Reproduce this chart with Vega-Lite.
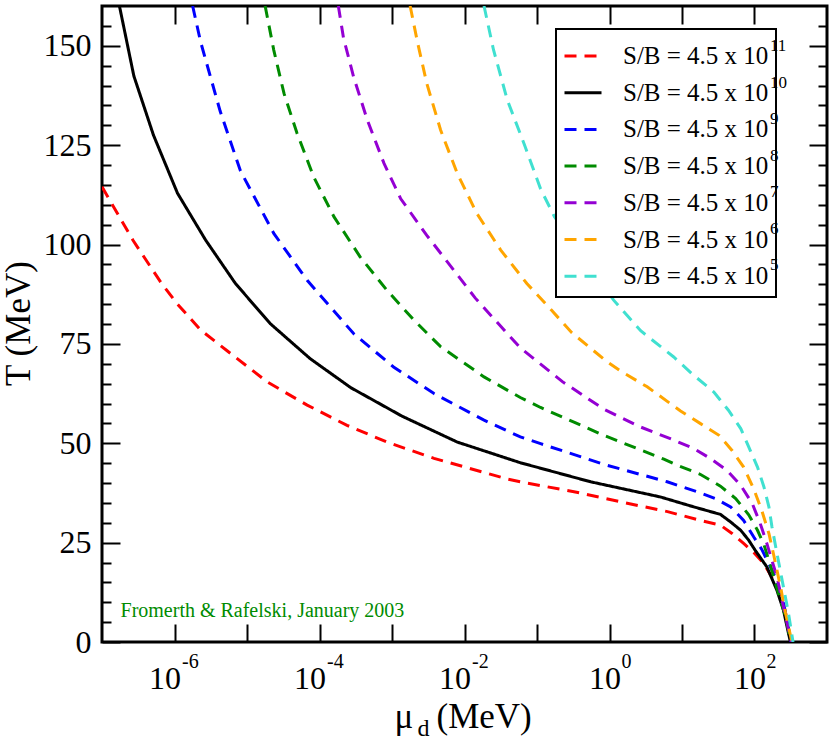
{
  "$schema": "https://vega.github.io/schema/vega-lite/v6.json",
  "width": 725,
  "height": 636,
  "autosize": {"type": "none"},
  "padding": {"left": 102, "top": 6, "right": 3, "bottom": 102},
  "config": {
    "view": {"stroke": "black", "strokeWidth": 3},
    "font": "Liberation Serif",
    "axis": {
      "domain": false,
      "grid": false,
      "tickColor": "black",
      "tickWidth": 2,
      "labelColor": "black",
      "titleColor": "black",
      "labelFont": "Liberation Serif",
      "titleFont": "Liberation Serif",
      "titleFontWeight": "normal",
      "labelFlush": false,
      "labelOverlap": false
    },
    "legend": {"strokeWidth": 2}
  },
  "datasets": {
    "curves": [
      {"s": "4.5e11", "n": 11, "mu": 1e-7, "T": 114.5},
      {"s": "4.5e11", "n": 11, "mu": 2.69e-7, "T": 101},
      {"s": "4.5e11", "n": 11, "mu": 6.46e-7, "T": 90.5},
      {"s": "4.5e11", "n": 11, "mu": 1.1e-6, "T": 85},
      {"s": "4.5e11", "n": 11, "mu": 2.29e-6, "T": 78.5},
      {"s": "4.5e11", "n": 11, "mu": 5.37e-6, "T": 73.2},
      {"s": "4.5e11", "n": 11, "mu": 1.91e-5, "T": 65.4},
      {"s": "4.5e11", "n": 11, "mu": 6.76e-5, "T": 59.6},
      {"s": "4.5e11", "n": 11, "mu": 2.4e-4, "T": 54.5},
      {"s": "4.5e11", "n": 11, "mu": 8.51e-4, "T": 50.3},
      {"s": "4.5e11", "n": 11, "mu": 3.8e-3, "T": 46.2},
      {"s": "4.5e11", "n": 11, "mu": 3.89e-2, "T": 41.0},
      {"s": "4.5e11", "n": 11, "mu": 5.89e-2, "T": 40.3},
      {"s": "4.5e11", "n": 11, "mu": 0.324, "T": 37.8},
      {"s": "4.5e11", "n": 11, "mu": 2.69, "T": 34.2},
      {"s": "4.5e11", "n": 11, "mu": 6.31, "T": 32.8},
      {"s": "4.5e11", "n": 11, "mu": 17.8, "T": 30.6},
      {"s": "4.5e11", "n": 11, "mu": 33.9, "T": 29.4},
      {"s": "4.5e11", "n": 11, "mu": 49.0, "T": 27.3},
      {"s": "4.5e11", "n": 11, "mu": 70.8, "T": 24.8},
      {"s": "4.5e11", "n": 11, "mu": 97.7, "T": 22.5},
      {"s": "4.5e11", "n": 11, "mu": 134, "T": 19.8},
      {"s": "4.5e11", "n": 11, "mu": 184, "T": 15.5},
      {"s": "4.5e11", "n": 11, "mu": 240, "T": 11.3},
      {"s": "4.5e11", "n": 11, "mu": 282, "T": 5.5},
      {"s": "4.5e11", "n": 11, "mu": 313, "T": 0},

      {"s": "4.5e10", "n": 10, "mu": 1.74e-7, "T": 160},
      {"s": "4.5e10", "n": 10, "mu": 2.75e-7, "T": 142.4},
      {"s": "4.5e10", "n": 10, "mu": 5.13e-7, "T": 127.5},
      {"s": "4.5e10", "n": 10, "mu": 1.1e-6, "T": 112.9},
      {"s": "4.5e10", "n": 10, "mu": 2.69e-6, "T": 101.1},
      {"s": "4.5e10", "n": 10, "mu": 6.92e-6, "T": 90.2},
      {"s": "4.5e10", "n": 10, "mu": 2.09e-5, "T": 80.1},
      {"s": "4.5e10", "n": 10, "mu": 7.41e-5, "T": 71.3},
      {"s": "4.5e10", "n": 10, "mu": 2.69e-4, "T": 64.0},
      {"s": "4.5e10", "n": 10, "mu": 1.38e-3, "T": 56.8},
      {"s": "4.5e10", "n": 10, "mu": 7.94e-3, "T": 50.3},
      {"s": "4.5e10", "n": 10, "mu": 5.89e-2, "T": 45.1},
      {"s": "4.5e10", "n": 10, "mu": 0.55, "T": 40.3},
      {"s": "4.5e10", "n": 10, "mu": 5.01, "T": 36.5},
      {"s": "4.5e10", "n": 10, "mu": 14.5, "T": 34.0},
      {"s": "4.5e10", "n": 10, "mu": 33.9, "T": 32.1},
      {"s": "4.5e10", "n": 10, "mu": 46.8, "T": 30.2},
      {"s": "4.5e10", "n": 10, "mu": 64.6, "T": 28.1},
      {"s": "4.5e10", "n": 10, "mu": 83.2, "T": 25.6},
      {"s": "4.5e10", "n": 10, "mu": 102, "T": 23.1},
      {"s": "4.5e10", "n": 10, "mu": 148, "T": 18.9},
      {"s": "4.5e10", "n": 10, "mu": 204, "T": 13.0},
      {"s": "4.5e10", "n": 10, "mu": 251, "T": 8.0},
      {"s": "4.5e10", "n": 10, "mu": 295, "T": 2.1},
      {"s": "4.5e10", "n": 10, "mu": 313, "T": 0},

      {"s": "4.5e9", "n": 9, "mu": 1.78e-6, "T": 160},
      {"s": "4.5e9", "n": 9, "mu": 2.29e-6, "T": 151},
      {"s": "4.5e9", "n": 9, "mu": 4.27e-6, "T": 133.5},
      {"s": "4.5e9", "n": 9, "mu": 8.13e-6, "T": 118.5},
      {"s": "4.5e9", "n": 9, "mu": 2.34e-5, "T": 102.8},
      {"s": "4.5e9", "n": 9, "mu": 6.76e-5, "T": 91.0},
      {"s": "4.5e9", "n": 9, "mu": 2.95e-4, "T": 77.6},
      {"s": "4.5e9", "n": 9, "mu": 1.05e-3, "T": 69.2},
      {"s": "4.5e9", "n": 9, "mu": 3.8e-3, "T": 62.5},
      {"s": "4.5e9", "n": 9, "mu": 1.86e-2, "T": 55.8},
      {"s": "4.5e9", "n": 9, "mu": 5.89e-2, "T": 51.6},
      {"s": "4.5e9", "n": 9, "mu": 0.112, "T": 49.9},
      {"s": "4.5e9", "n": 9, "mu": 0.832, "T": 44.7},
      {"s": "4.5e9", "n": 9, "mu": 6.24, "T": 40.3},
      {"s": "4.5e9", "n": 9, "mu": 16.2, "T": 37.8},
      {"s": "4.5e9", "n": 9, "mu": 28.8, "T": 36.1},
      {"s": "4.5e9", "n": 9, "mu": 46.8, "T": 34.0},
      {"s": "4.5e9", "n": 9, "mu": 70.8, "T": 30.6},
      {"s": "4.5e9", "n": 9, "mu": 97.7, "T": 26.4},
      {"s": "4.5e9", "n": 9, "mu": 126, "T": 23.3},
      {"s": "4.5e9", "n": 9, "mu": 184, "T": 17.2},
      {"s": "4.5e9", "n": 9, "mu": 240, "T": 11.3},
      {"s": "4.5e9", "n": 9, "mu": 282, "T": 5.5},
      {"s": "4.5e9", "n": 9, "mu": 316, "T": 0},

      {"s": "4.5e8", "n": 8, "mu": 1.78e-5, "T": 160},
      {"s": "4.5e8", "n": 8, "mu": 2.34e-5, "T": 148.9},
      {"s": "4.5e8", "n": 8, "mu": 3.24e-5, "T": 138},
      {"s": "4.5e8", "n": 8, "mu": 4.9e-5, "T": 128},
      {"s": "4.5e8", "n": 8, "mu": 8.32e-5, "T": 117},
      {"s": "4.5e8", "n": 8, "mu": 1.58e-4, "T": 107},
      {"s": "4.5e8", "n": 8, "mu": 3.63e-4, "T": 96.9},
      {"s": "4.5e8", "n": 8, "mu": 8.51e-4, "T": 88.5},
      {"s": "4.5e8", "n": 8, "mu": 2.0e-3, "T": 81.0},
      {"s": "4.5e8", "n": 8, "mu": 4.68e-3, "T": 74.3},
      {"s": "4.5e8", "n": 8, "mu": 1.86e-2, "T": 66.7},
      {"s": "4.5e8", "n": 8, "mu": 5.89e-2, "T": 61.5},
      {"s": "4.5e8", "n": 8, "mu": 0.112, "T": 59.0},
      {"s": "4.5e8", "n": 8, "mu": 0.832, "T": 52.0},
      {"s": "4.5e8", "n": 8, "mu": 5.62, "T": 46.0},
      {"s": "4.5e8", "n": 8, "mu": 8.51, "T": 44.5},
      {"s": "4.5e8", "n": 8, "mu": 17.8, "T": 42.2},
      {"s": "4.5e8", "n": 8, "mu": 33.9, "T": 39.2},
      {"s": "4.5e8", "n": 8, "mu": 55.0, "T": 36.1},
      {"s": "4.5e8", "n": 8, "mu": 83.2, "T": 32.0},
      {"s": "4.5e8", "n": 8, "mu": 110, "T": 28.1},
      {"s": "4.5e8", "n": 8, "mu": 135, "T": 24.5},
      {"s": "4.5e8", "n": 8, "mu": 166, "T": 19.2},
      {"s": "4.5e8", "n": 8, "mu": 214, "T": 12.2},
      {"s": "4.5e8", "n": 8, "mu": 269, "T": 6.3},
      {"s": "4.5e8", "n": 8, "mu": 316, "T": 0},

      {"s": "4.5e7", "n": 7, "mu": 1.82e-4, "T": 160},
      {"s": "4.5e7", "n": 7, "mu": 2.14e-4, "T": 152},
      {"s": "4.5e7", "n": 7, "mu": 2.95e-4, "T": 142.2},
      {"s": "4.5e7", "n": 7, "mu": 4.57e-4, "T": 131.3},
      {"s": "4.5e7", "n": 7, "mu": 7.76e-4, "T": 120.4},
      {"s": "4.5e7", "n": 7, "mu": 1.32e-3, "T": 111.5},
      {"s": "4.5e7", "n": 7, "mu": 3.02e-3, "T": 102.3},
      {"s": "4.5e7", "n": 7, "mu": 7.08e-3, "T": 93.6},
      {"s": "4.5e7", "n": 7, "mu": 1.41e-2, "T": 86.5},
      {"s": "4.5e7", "n": 7, "mu": 3.89e-2, "T": 77.6},
      {"s": "4.5e7", "n": 7, "mu": 5.89e-2, "T": 74.0},
      {"s": "4.5e7", "n": 7, "mu": 0.224, "T": 65.5},
      {"s": "4.5e7", "n": 7, "mu": 0.832, "T": 58.6},
      {"s": "4.5e7", "n": 7, "mu": 2.51, "T": 54.3},
      {"s": "4.5e7", "n": 7, "mu": 7.69, "T": 50.8},
      {"s": "4.5e7", "n": 7, "mu": 14.5, "T": 48.7},
      {"s": "4.5e7", "n": 7, "mu": 24.5, "T": 46.2},
      {"s": "4.5e7", "n": 7, "mu": 41.7, "T": 43.2},
      {"s": "4.5e7", "n": 7, "mu": 64.6, "T": 39.4},
      {"s": "4.5e7", "n": 7, "mu": 93.3, "T": 34.8},
      {"s": "4.5e7", "n": 7, "mu": 120, "T": 29.8},
      {"s": "4.5e7", "n": 7, "mu": 148, "T": 24.8},
      {"s": "4.5e7", "n": 7, "mu": 174, "T": 20.5},
      {"s": "4.5e7", "n": 7, "mu": 204, "T": 16.4},
      {"s": "4.5e7", "n": 7, "mu": 251, "T": 8.8},
      {"s": "4.5e7", "n": 7, "mu": 322, "T": 0},

      {"s": "4.5e6", "n": 6, "mu": 1.78e-3, "T": 160},
      {"s": "4.5e6", "n": 6, "mu": 2.24e-3, "T": 151},
      {"s": "4.5e6", "n": 6, "mu": 3.02e-3, "T": 140.5},
      {"s": "4.5e6", "n": 6, "mu": 4.68e-3, "T": 128.8},
      {"s": "4.5e6", "n": 6, "mu": 7.94e-3, "T": 117.9},
      {"s": "4.5e6", "n": 6, "mu": 1.48e-2, "T": 107.8},
      {"s": "4.5e6", "n": 6, "mu": 3.16e-2, "T": 98.6},
      {"s": "4.5e6", "n": 6, "mu": 7.24e-2, "T": 90.2},
      {"s": "4.5e6", "n": 6, "mu": 0.158, "T": 83.5},
      {"s": "4.5e6", "n": 6, "mu": 0.302, "T": 77.8},
      {"s": "4.5e6", "n": 6, "mu": 0.927, "T": 70.5},
      {"s": "4.5e6", "n": 6, "mu": 1.41, "T": 68.2},
      {"s": "4.5e6", "n": 6, "mu": 3.31, "T": 64.2},
      {"s": "4.5e6", "n": 6, "mu": 9.55, "T": 58.1},
      {"s": "4.5e6", "n": 6, "mu": 17.8, "T": 55.0},
      {"s": "4.5e6", "n": 6, "mu": 32.4, "T": 52.0},
      {"s": "4.5e6", "n": 6, "mu": 49.0, "T": 48.2},
      {"s": "4.5e6", "n": 6, "mu": 70.8, "T": 44.0},
      {"s": "4.5e6", "n": 6, "mu": 97.7, "T": 38.5},
      {"s": "4.5e6", "n": 6, "mu": 126, "T": 33.1},
      {"s": "4.5e6", "n": 6, "mu": 158, "T": 27.3},
      {"s": "4.5e6", "n": 6, "mu": 186, "T": 21.5},
      {"s": "4.5e6", "n": 6, "mu": 229, "T": 13.8},
      {"s": "4.5e6", "n": 6, "mu": 269, "T": 7.1},
      {"s": "4.5e6", "n": 6, "mu": 328, "T": 0},

      {"s": "4.5e5", "n": 5, "mu": 1.86e-2, "T": 160},
      {"s": "4.5e5", "n": 5, "mu": 2.51e-2, "T": 149},
      {"s": "4.5e5", "n": 5, "mu": 3.89e-2, "T": 136.4},
      {"s": "4.5e5", "n": 5, "mu": 6.61e-2, "T": 125.4},
      {"s": "4.5e5", "n": 5, "mu": 0.112, "T": 114},
      {"s": "4.5e5", "n": 5, "mu": 0.174, "T": 107},
      {"s": "4.5e5", "n": 5, "mu": 0.316, "T": 100.5},
      {"s": "4.5e5", "n": 5, "mu": 0.631, "T": 92.5},
      {"s": "4.5e5", "n": 5, "mu": 1.14, "T": 86},
      {"s": "4.5e5", "n": 5, "mu": 2.69, "T": 78.3},
      {"s": "4.5e5", "n": 5, "mu": 7.69, "T": 71.7},
      {"s": "4.5e5", "n": 5, "mu": 14.5, "T": 67.1},
      {"s": "4.5e5", "n": 5, "mu": 27.5, "T": 62.9},
      {"s": "4.5e5", "n": 5, "mu": 43.7, "T": 58.3},
      {"s": "4.5e5", "n": 5, "mu": 64.6, "T": 53.7},
      {"s": "4.5e5", "n": 5, "mu": 83.2, "T": 49.1},
      {"s": "4.5e5", "n": 5, "mu": 110, "T": 44.0},
      {"s": "4.5e5", "n": 5, "mu": 135, "T": 39.0},
      {"s": "4.5e5", "n": 5, "mu": 158, "T": 34.0},
      {"s": "4.5e5", "n": 5, "mu": 174, "T": 29.0},
      {"s": "4.5e5", "n": 5, "mu": 204, "T": 22.3},
      {"s": "4.5e5", "n": 5, "mu": 251, "T": 13.8},
      {"s": "4.5e5", "n": 5, "mu": 295, "T": 7.1},
      {"s": "4.5e5", "n": 5, "mu": 340, "T": 0}
    ],
    "note": [
      {"mu": 1.8e-7, "T": 6.2, "text": "Fromerth & Rafelski, January 2003"}
    ]
  },
  "layer": [
    {
      "data": {"name": "curves"},
      "mark": {"type": "line", "strokeWidth": 3, "clip": true},
      "encoding": {
        "x": {
          "field": "mu", "type": "quantitative",
          "scale": {"type": "log", "domain": [1e-7, 1000], "nice": false},
          "axis": {
            "orient": "bottom",
            "values": [1e-6, 1e-4, 0.01, 1, 100],
            "ticks": false,
            "labelExpr": "'10'",
            "labelAlign": "right",
            "labelBaseline": "alphabetic",
            "labelPadding": 46,
            "labelFontSize": 32,
            "labelOffset": {"condition": {"test": "datum.value < 0.5", "value": 6}, "value": 11},
            "title": "\u03bc",
            "titleFontSize": 35,
            "titleFontWeight": "normal",
            "titleAlign": "left",
            "titleBaseline": "alphabetic",
            "titleX": 292,
            "titleY": 85
          }
        },
        "y": {
          "field": "T", "type": "quantitative",
          "scale": {"domain": [0, 160], "nice": false},
          "axis": {
            "orient": "left",
            "values": [0, 25, 50, 75, 100, 125, 150],
            "ticks": false,
            "labelPadding": 11,
            "labelFontSize": 32,
            "labelBaseline": "middle",
            "title": "T (MeV)",
            "titleFontSize": 35,
            "titleFontWeight": "normal",
            "titleBaseline": "alphabetic",
            "titleX": -73,
            "titleY": 317
          }
        },
        "color": {
          "field": "s", "type": "nominal",
          "scale": {
            "domain": ["4.5e11", "4.5e10", "4.5e9", "4.5e8", "4.5e7", "4.5e6", "4.5e5"],
            "range": ["#ff0000", "#000000", "#0000ff", "#008b00", "#9400d3", "#ffa500", "#40e0d0"]
          },
          "legend": {
            "title": null, "orient": "none", "legendX": 454, "legendY": 23,
            "labelExpr": "'S/B = 4.5 x 10\u00a0\u00a0\u00a0'",
            "labelFont": "Liberation Serif", "labelFontSize": 25, "labelColor": "black", "labelLimit": 400,
            "symbolType": "stroke", "symbolSize": 1369, "symbolStrokeWidth": 3,
            "labelOffset": 20, "padding": 7, "rowPadding": 3.7,
            "strokeColor": "black", "fillColor": "white",
            "encode": {"symbols": {"update": {"strokeDash": {"signal": "datum.value === '4.5e10' ? [1, 0] : [12, 8]"}}}}
          }
        },
        "strokeDash": {
          "field": "n", "type": "ordinal",
          "scale": {
            "domain": [11, 10, 9, 8, 7, 6, 5],
            "range": [[12, 8], [1, 0], [12, 8], [12, 8], [12, 8], [12, 8], [12, 8]]
          },
          "legend": {
            "title": null, "orient": "none", "legendX": 454, "legendY": 13,
            "labelFont": "Liberation Serif", "labelFontSize": 17, "labelColor": "black",
            "symbolType": "stroke", "symbolSize": 1369, "symbolStrokeWidth": 3, "symbolOpacity": 0,
            "labelOffset": 167, "padding": 7, "rowPadding": 8.5
          }
        }
      }
    },
    {
      "data": {"name": "note"},
      "mark": {"type": "point", "opacity": 0},
      "encoding": {
        "x": {
          "field": "mu", "type": "quantitative",
          "scale": {"type": "log", "domain": [1e-7, 1000], "nice": false},
          "axis": {
            "orient": "bottom",
            "values": [1e-6, 1e-4, 0.01, 1, 100],
            "ticks": false,
            "labelExpr": "'' + round(log(datum.value) / LN10)",
            "labelAlign": "left",
            "labelBaseline": "alphabetic",
            "labelPadding": 25,
            "labelFontSize": 20,
            "labelOffset": {"condition": {"test": "datum.value < 0.5", "value": 7}, "value": 11.5},
            "title": "d",
            "titleFontSize": 24,
            "titleFontWeight": "normal",
            "titleAlign": "left",
            "titleBaseline": "alphabetic",
            "titleX": 315,
            "titleY": 93
          }
        },
        "y": {
          "field": "T", "type": "quantitative",
          "scale": {"domain": [0, 160], "nice": false},
          "axis": {"orient": "left", "values": [0, 25, 50, 75, 100, 125, 150], "labels": false, "tickSize": -18, "title": null}
        }
      }
    },
    {
      "data": {"name": "note"},
      "mark": {"type": "point", "opacity": 0},
      "encoding": {
        "x": {
          "field": "mu", "type": "quantitative",
          "scale": {"type": "log", "domain": [1e-7, 1000], "nice": false},
          "axis": {
            "orient": "bottom",
            "values": [1e-6, 1e-5, 1e-4, 1e-3, 0.01, 0.1, 1, 10, 100],
            "labels": false,
            "tickSize": -18,
            "title": "(MeV)",
            "titleFontSize": 35,
            "titleFontWeight": "normal",
            "titleAlign": "left",
            "titleBaseline": "alphabetic",
            "titleX": 334,
            "titleY": 85
          }
        },
        "y": {
          "field": "T", "type": "quantitative",
          "scale": {"domain": [0, 160], "nice": false},
          "axis": {"orient": "left", "values": [5, 10, 15, 20, 30, 35, 40, 45, 55, 60, 65, 70, 80, 85, 90, 95, 105, 110, 115, 120, 130, 135, 140, 145, 155], "labels": false, "tickSize": -9, "title": null}
        }
      }
    },
    {
      "data": {"name": "note"},
      "mark": {"type": "point", "opacity": 0},
      "encoding": {
        "x": {
          "field": "mu", "type": "quantitative",
          "scale": {"type": "log", "domain": [1e-7, 1000], "nice": false},
          "axis": {"orient": "top", "values": [1e-6, 1e-5, 1e-4, 1e-3, 0.01, 0.1, 1, 10, 100], "labels": false, "tickSize": -18, "title": null}
        },
        "y": {
          "field": "T", "type": "quantitative",
          "scale": {"domain": [0, 160], "nice": false},
          "axis": {"orient": "right", "values": [0, 25, 50, 75, 100, 125, 150], "labels": false, "tickSize": -18, "title": null}
        }
      }
    },
    {
      "data": {"name": "note"},
      "mark": {"type": "text", "align": "left", "baseline": "alphabetic", "font": "Liberation Serif", "fontSize": 20, "color": "#008b00"},
      "encoding": {
        "x": {
          "field": "mu", "type": "quantitative",
          "scale": {"type": "log", "domain": [1e-7, 1000], "nice": false},
          "axis": null
        },
        "y": {
          "field": "T", "type": "quantitative",
          "scale": {"domain": [0, 160], "nice": false},
          "axis": {"orient": "right", "values": [5, 10, 15, 20, 30, 35, 40, 45, 55, 60, 65, 70, 80, 85, 90, 95, 105, 110, 115, 120, 130, 135, 140, 145, 155], "labels": false, "tickSize": -9, "title": null}
        },
        "text": {"field": "text"}
      }
    }
  ],
  "resolve": {"axis": {"x": "independent", "y": "independent"}}
}
